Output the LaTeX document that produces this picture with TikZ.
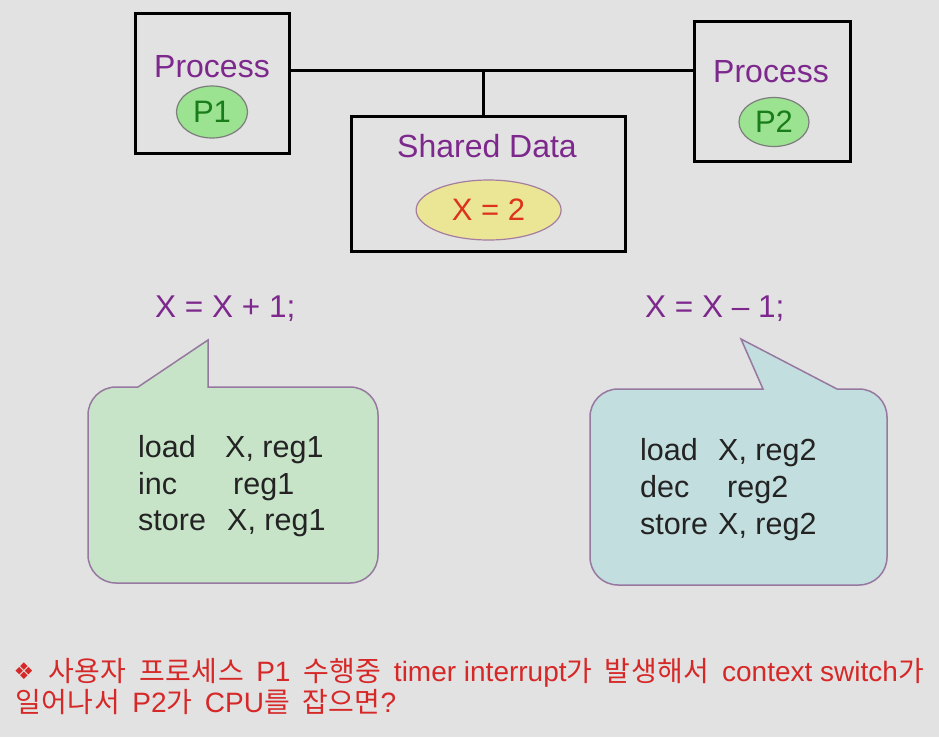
\documentclass[tikz,border=0pt]{standalone}
\usepackage{fontspec}
\setmainfont{Liberation Sans}
\newfontfamily\krfont[LetterSpace=2]{Noto Sans CJK KR}
\newfontfamily\symfont{DejaVu Sans}
\usetikzlibrary{shapes.geometric}
\definecolor{bg}{RGB}{226,226,226}
\definecolor{purp}{RGB}{125,40,140}
\definecolor{pgreen}{RGB}{155,226,145}
\definecolor{pgtext}{RGB}{25,125,25}
\definecolor{yell}{RGB}{234,230,150}
\definecolor{xred}{RGB}{220,50,30}
\definecolor{cgreen}{RGB}{200,228,200}
\definecolor{cblue}{RGB}{195,222,222}
\definecolor{cedge}{RGB}{150,120,160}
\definecolor{codetext}{RGB}{35,35,35}
\definecolor{bred}{RGB}{215,40,40}
\definecolor{gedge}{RGB}{125,125,125}
\definecolor{yedge}{RGB}{165,125,160}
\newcommand{\kr}[1]{{\krfont #1}}
\newcommand{\ks}{\hspace{12.5pt}}
\tikzset{
  procbox/.style={draw=black, line width=3pt, inner sep=0pt},
  conn/.style={draw=black, line width=3pt},
  lbl/.style={text=purp, font=\fontsize{32}{36}\selectfont, inner sep=0pt},
  pell/.style={ellipse, draw=gedge, line width=1.2pt, fill=pgreen, text=pgtext, font=\fontsize{31}{36}\selectfont, inner sep=0pt},
  xell/.style={ellipse, draw=yedge, line width=1.2pt, fill=yell, text=xred, font=\fontsize{31}{36}\selectfont, inner sep=0pt},
  stmt/.style={text=purp, font=\fontsize{31.5}{36}\selectfont, inner sep=0pt},
  callg/.style={draw=cedge, line width=1.5pt, fill=cgreen},
  callb/.style={draw=cedge, line width=1.5pt, fill=cblue},
  code/.style={text=codetext, font=\fontsize{30.5}{34}\selectfont, inner sep=0pt},
  note/.style={text=bred, font=\fontsize{28}{32}\selectfont, inner sep=0pt}
}
\begin{document}
\begin{tikzpicture}[x=1pt,y=-1pt]
\fill[bg] (0,0) rectangle (939,737);
\useasboundingbox (0,0) rectangle (939,737);

% boxes
\node[procbox, minimum width=154pt, minimum height=140pt] (p1box) at (212,83) {};
\node[procbox, minimum width=274pt, minimum height=135pt] (shared) at (488,183.5) {};
\node[procbox, minimum width=156pt, minimum height=140pt] (p2box) at (772,91.7) {};

% connectors
\coordinate (bus) at (483,70);
\draw[conn] (p1box.east |- bus) -- (p2box.west |- bus);
\draw[conn] (bus) -- (bus |- shared.north);

% labels
\node[lbl, anchor=base] (p1lbl) at (212,77) {Process};
\node[lbl, anchor=base] (p2lbl) at (771,82) {Process};
\node[lbl, anchor=base] (shlbl) at (487,157) {Shared Data};

\node[pell, minimum width=71pt, minimum height=52pt] (p1) at (212,112) {P1};
\node[pell, minimum width=70pt, minimum height=49pt] (p2) at (774,122) {P2};
\node[xell, minimum width=145pt, minimum height=60pt] (x) at (488.6,210) {X = 2};

% statements
\node[stmt, anchor=base west] (s1) at (155,317) {X = X + 1;};
\node[stmt, anchor=base west] (s2) at (645,317) {X = X – 1;};

% callouts
\draw[callg] (208,387) [rounded corners=28pt] -- (378,387) -- (378,583) -- (88,583) -- (88,387) [sharp corners] -- (138,387) -- (208,340) -- cycle;
\draw[callb] (763,389) -- (741,339) -- (837,389) [rounded corners=28pt] -- (887,389) -- (887,585) -- (590,585) -- (590,389) [sharp corners] -- cycle;

% code
\node[code, anchor=base west] (a1) at (138,457) {\makebox[87pt][l]{load}X, reg1};
\node[code, anchor=base west] (a2) at (138,494) {\makebox[95pt][l]{inc}reg1};
\node[code, anchor=base west] (a3) at (138,530) {\makebox[89pt][l]{store}X, reg1};
\node[code, anchor=base west] (b1) at (640,460) {\makebox[78pt][l]{load}X, reg2};
\node[code, anchor=base west] (b2) at (640,497) {\makebox[87pt][l]{dec}reg2};
\node[code, anchor=base west] (b3) at (640,534) {\makebox[78pt][l]{store}X, reg2};

% note
\node[text=bred, font=\symfont\fontsize{23}{23}\selectfont, inner sep=0pt] (bul) at (24,671) {❖};
\node[note, anchor=base west] (n1) at (48,681) {\kr{사용자}\ks\kr{프로세스}\ks P1\ks\kr{수행중}\ks timer interrupt\kr{가}\ks\kr{발생해서}\ks context switch\kr{가}};
\node[note, anchor=base west] (n2) at (15,712) {\kr{일어나서}\ks P2\kr{가}\ks CPU\kr{를}\ks\kr{잡으면}?};
\end{tikzpicture}
\end{document}
